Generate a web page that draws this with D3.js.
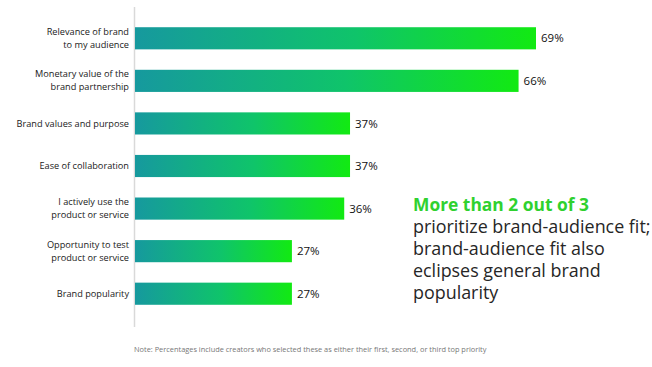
<!DOCTYPE html>
<html lang="en">
<head>
<meta charset="utf-8">
<title>Brand partnership priorities</title>
<script src="https://d3js.org/d3.v7.min.js"></script>
<style>
  body { margin: 0; background: #fff; font-family: "Open Sans", sans-serif; }
</style>
</head>
<body>
<div id="chart"></div>
<script>
// data
var categories = [
  ["Relevance of brand", "to my audience"],
  ["Monetary value of the", "brand partnership"],
  ["Brand values and purpose"],
  ["Ease of collaboration"],
  ["I actively use the", "product or service"],
  ["Opportunity to test", "product or service"],
  ["Brand popularity"]
];
var values = [69, 66, 37, 37, 36, 27, 27];
var valueLabels = ["69%", "66%", "37%", "37%", "36%", "27%", "27%"];
var calloutHead = "More than 2 out of 3";
var calloutLines = ["prioritize brand-audience fit;", "brand-audience fit also", "eclipses general brand", "popularity"];
var note = "Note: Percentages include creators who selected these as either their first, second, or third top priority";

var width = 652, height = 367;
var margin = { top: 17, left: 135 };

var svg = d3.select("#chart").append("svg")
  .attr("width", width)
  .attr("height", height);

// gradient for each bar, teal -> green
var defs = svg.append("defs");
var grad = defs.append("linearGradient")
  .attr("id", "barGrad")
  .attr("x1", "0%").attr("x2", "100%")
  .attr("y1", "0%").attr("y2", "0%");
grad.append("stop").attr("offset", "0%").attr("stop-color", "#16999e");
grad.append("stop").attr("offset", "55%").attr("stop-color", "#0fc46a");
grad.append("stop").attr("offset", "100%").attr("stop-color", "#12ea12");

var x = d3.scaleLinear()
  .domain([0, 69])
  .range([margin.left, 536]);

var y = d3.scaleBand()
  .domain(d3.range(categories.length))
  .range([margin.top, 315])
  .paddingInner(0.48)
  .paddingOuter(0.24);

// vertical axis line
svg.append("line")
  .attr("x1", margin.left - 0.5).attr("x2", margin.left - 0.5)
  .attr("y1", 7).attr("y2", 327)
  .attr("stroke", "#d9d9d9")
  .attr("stroke-width", 1.5);

// bars
svg.append("g")
  .selectAll("rect")
  .data(values)
  .join("rect")
  .attr("x", x(0))
  .attr("y", function(d, i) { return y(i); })
  .attr("width", function(d) { return x(d) - x(0); })
  .attr("height", y.bandwidth())
  .attr("fill", "url(#barGrad)");

// value labels
svg.append("g")
  .selectAll("text")
  .data(values)
  .join("text")
  .attr("x", function(d) { return x(d) + 5; })
  .attr("y", function(d, i) { return y(i) + y.bandwidth() / 2; })
  .attr("dy", "0.36em")
  .attr("font-size", 11.5)
  .attr("fill", "#111")
  .text(function(d, i) { return valueLabels[i]; });

// category labels
var cat = svg.append("g")
  .selectAll("text")
  .data(categories)
  .join("text")
  .attr("text-anchor", "end")
  .attr("font-size", 9.2)
  .attr("fill", "#1a1a1a")
  .attr("y", function(d, i) {
    var mid = y(i) + y.bandwidth() / 2;
    return d.length > 1 ? mid - 6.5 + 3 : mid + 3.2;
  });
cat.each(function(d) {
  var t = d3.select(this);
  d.forEach(function(line, j) {
    t.append("tspan")
      .attr("x", margin.left - 6)
      .attr("dy", j === 0 ? 0 : 13)
      .text(line);
  });
});

// callout
var callout = svg.append("text")
  .attr("x", 413)
  .attr("y", 211);
callout.append("tspan")
  .attr("x", 413)
  .attr("font-size", 17.4)
  .attr("font-weight", "bold")
  .attr("fill", "#2fd12f")
  .text(calloutHead);
calloutLines.forEach(function(line) {
  callout.append("tspan")
    .attr("x", 413)
    .attr("dy", 22)
    .attr("font-size", 17.9)
    .attr("fill", "#262626")
    .text(line);
});

// footnote
svg.append("text")
  .attr("x", 134)
  .attr("y", 352)
  .attr("font-size", 7.4)
  .attr("fill", "#777")
  .text(note);
</script>
</body>
</html>
